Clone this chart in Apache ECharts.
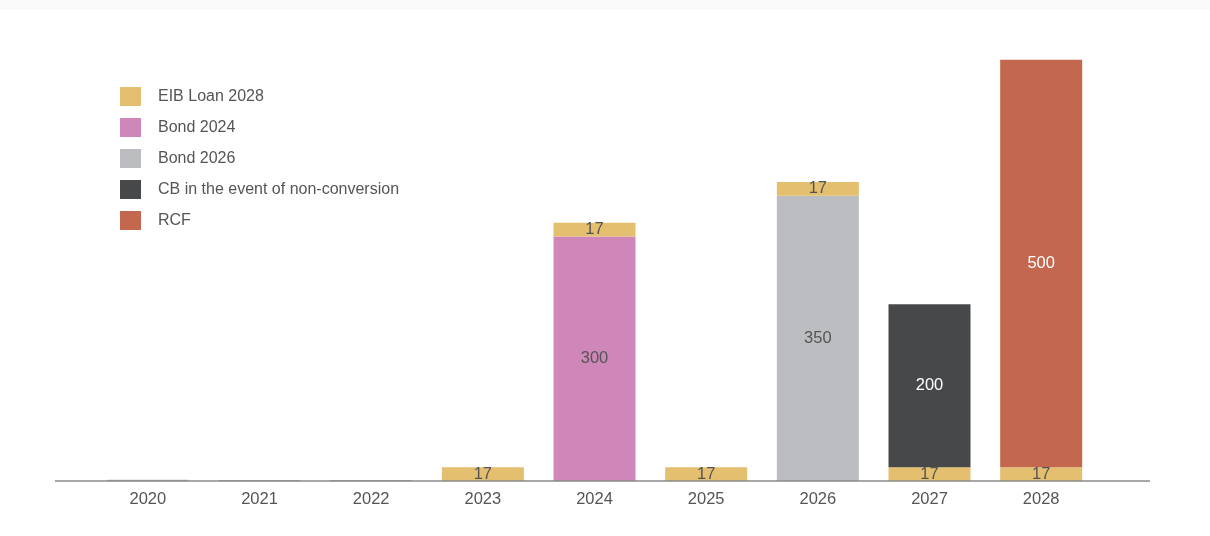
<!DOCTYPE html>
<html><head><meta charset="utf-8">
<script src="https://cdn.jsdelivr.net/npm/echarts@6/dist/echarts.min.js"></script>
<style>html,body{margin:0;padding:0;background:#fff}#c{width:1210px;height:536px}</style>
</head><body><div id="c"></div>
<script>
const categories = ['2020','2021','2022','2023','2024','2025','2026','2027','2028'];
const emptyBars  = [1.5, 1, 1, null, null, null, null, null, null];
const eibBottom  = [null, null, null, 17, null, 17, null, 17, 17];
const bond2024   = [null, null, null, null, 300, null, null, null, null];
const bond2026   = [null, null, null, null, null, null, 350, null, null];
const cb         = [null, null, null, null, null, null, null, 200, null];
const rcf        = [null, null, null, null, null, null, null, null, 500];
const eibTop     = [null, null, null, null, 17, null, 17, null, null];
const legendNames = ['EIB Loan 2028','Bond 2024','Bond 2026','CB in the event of non-conversion','RCF'];

const FONT = 'Liberation Sans';
const chart = echarts.init(document.getElementById('c'));
const lbl = (color) => ({show:true, position:'inside', color:color, fontSize:16.5, fontFamily:FONT});
const base = {type:'bar', stack:'total', barWidth:82};
chart.setOption({
  animation:false,
  backgroundColor:'#fff',
  graphic:[
    {type:'rect', shape:{x:0,y:0,width:1210,height:10}, style:{fill:'#f9f9f9'}, silent:true},
    {type:'line', shape:{x1:55,y1:481,x2:1150,y2:481}, style:{stroke:'#8a8a8a', lineWidth:1.5}, z:10, silent:true}
  ],
  legend:{
    data:legendNames, orient:'vertical', left:115, top:82,
    itemWidth:21, itemHeight:19, itemGap:12,
    textStyle:{fontSize:16, color:'#555', fontFamily:FONT, padding:[0,0,0,12]},
    icon:'rect'
  },
  grid:{left:92, right:113, top:41, bottom:55},
  xAxis:{type:'category', data:categories,
    axisLine:{show:false}, axisTick:{show:false},
    axisLabel:{fontSize:16.5, color:'#555', fontFamily:FONT, margin:10}},
  yAxis:{type:'value', min:0, max:540, show:false, splitLine:{show:false}},
  series:[
    Object.assign({}, base, {name:'empty', data:emptyBars,
      itemStyle:{color:'#fff', borderColor:'#aaa', borderWidth:1}, silent:true}),
    Object.assign({}, base, {name:'EIB Loan 2028', data:eibBottom, itemStyle:{color:'#e3bf6f'}, label:lbl('#555')}),
    Object.assign({}, base, {name:'Bond 2024', data:bond2024, itemStyle:{color:'#cf86b9'}, label:lbl('#555')}),
    Object.assign({}, base, {name:'Bond 2026', data:bond2026, itemStyle:{color:'#bcbdc0'}, label:lbl('#555')}),
    Object.assign({}, base, {name:'CB in the event of non-conversion', data:cb, itemStyle:{color:'#47484a'}, label:lbl('#fff')}),
    Object.assign({}, base, {name:'RCF', data:rcf, itemStyle:{color:'#c4674f'}, label:lbl('#fff')}),
    Object.assign({}, base, {name:'EIB Loan 2028', data:eibTop, itemStyle:{color:'#e3bf6f'}, label:lbl('#555')})
  ]
});
</script></body></html>
